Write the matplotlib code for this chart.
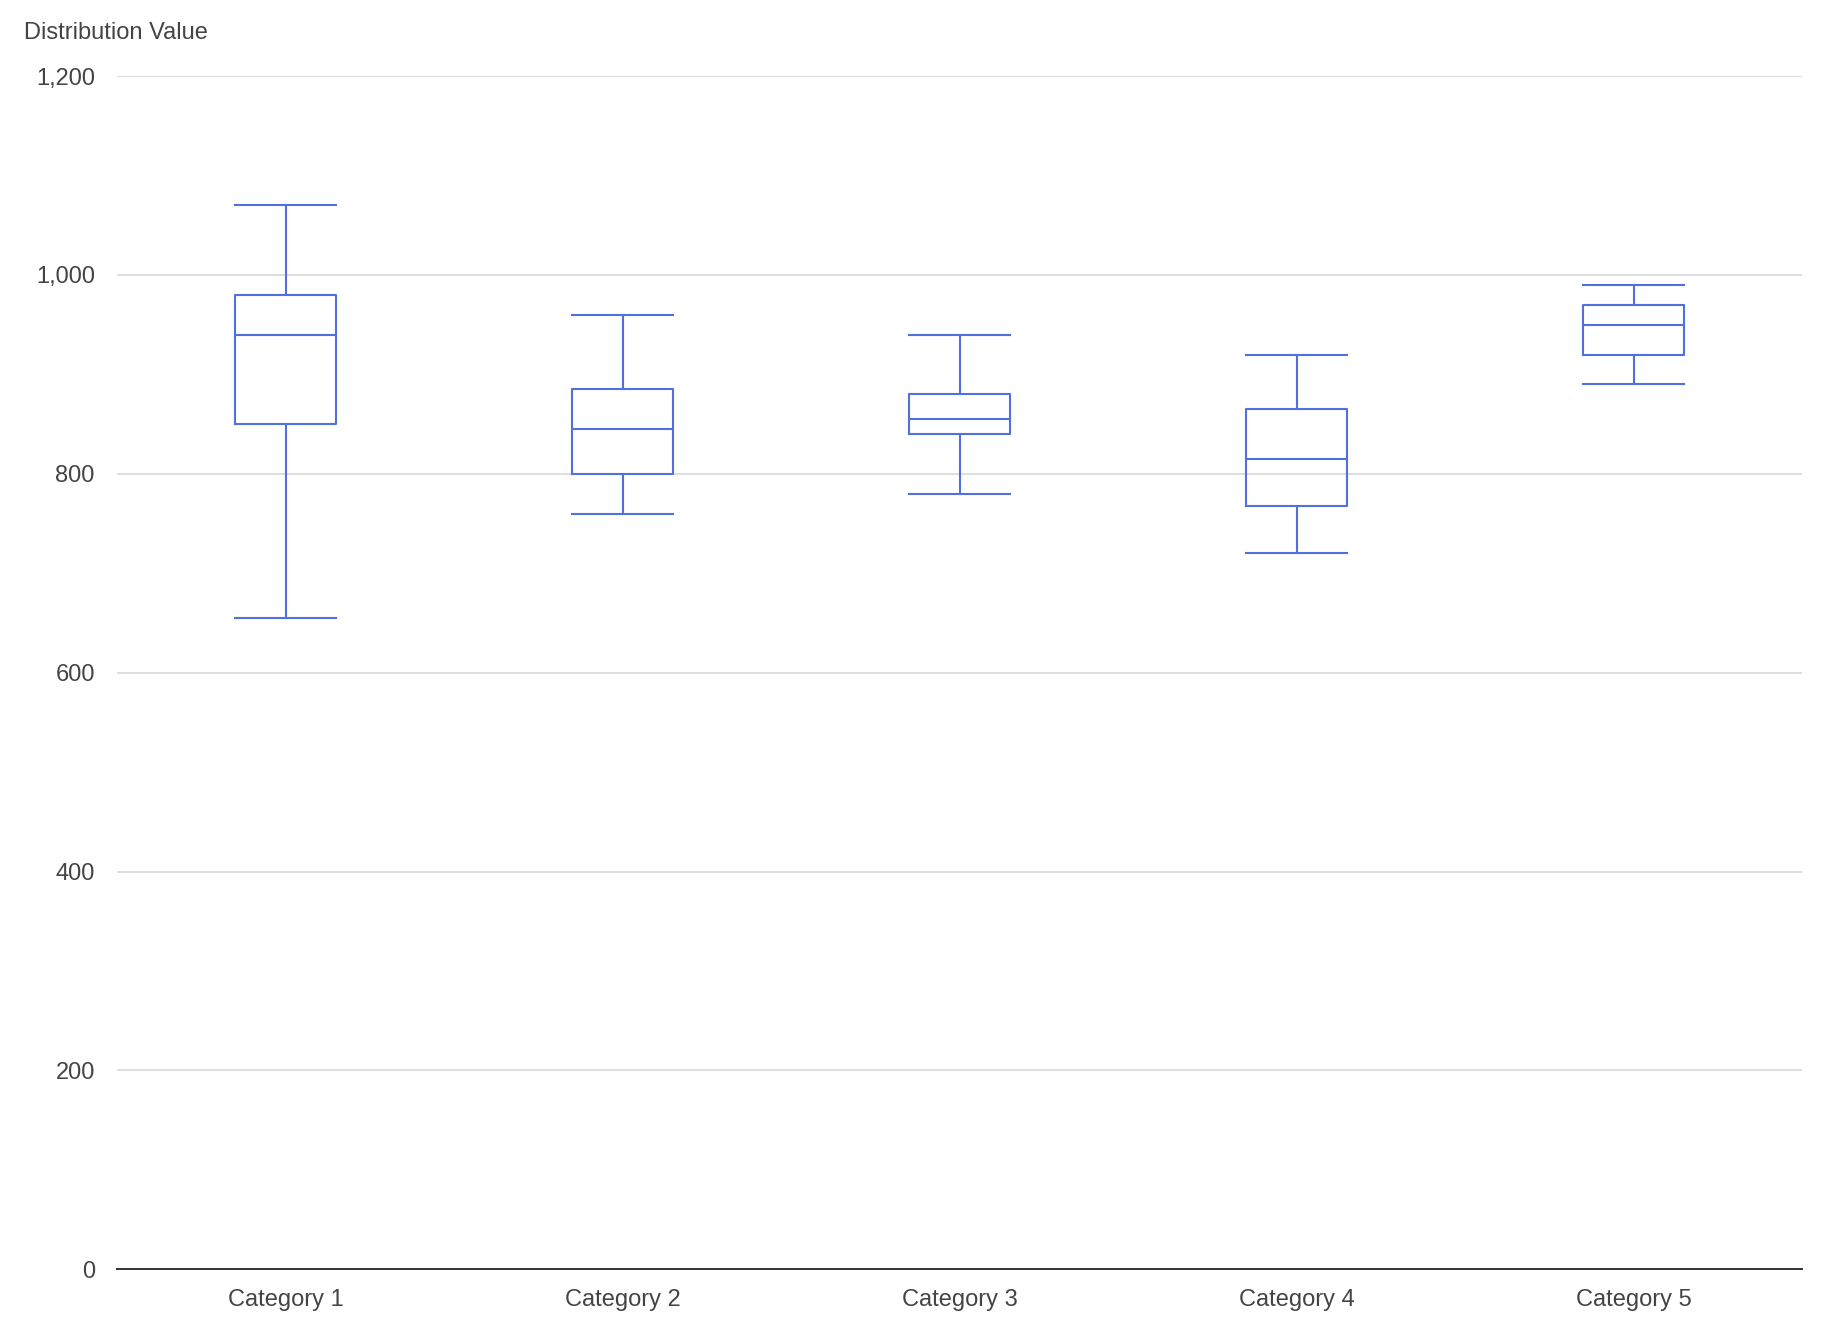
import matplotlib
matplotlib.use("Agg")
import matplotlib.pyplot as plt
from matplotlib.ticker import FuncFormatter

# Box plot statistics
categories = ["Category 1", "Category 2", "Category 3", "Category 4", "Category 5"]
whisker_low = [655, 760, 780, 720, 890]
q1 = [850, 800, 840, 768, 920]
median = [940, 845, 855, 815, 950]
q3 = [980, 885, 880, 865, 970]
whisker_high = [1070, 960, 940, 920, 990]

plt.rcParams["font.family"] = ["Liberation Sans", "DejaVu Sans"]

blue = "#5070e0"
text_color = "#444444"

fig = plt.figure(figsize=(18.28, 13.36), dpi=100)
ax = fig.add_axes([0.064, 0.05, 0.922, 0.893])

stats = []
for i, name in enumerate(categories):
    stats.append(dict(
        label=name,
        whislo=whisker_low[i],
        q1=q1[i],
        med=median[i],
        q3=q3[i],
        whishi=whisker_high[i],
        fliers=[],
    ))

line = dict(color=blue, linewidth=1.5)
ax.bxp(
    stats,
    positions=range(len(categories)),
    widths=0.3,
    showfliers=False,
    boxprops=line,
    whiskerprops=line,
    capprops=line,
    medianprops=line,
    capwidths=0.3,
)

ax.set_xlim(-0.5, len(categories) - 0.5)
ax.set_ylim(0, 1200)
ax.set_yticks([0, 200, 400, 600, 800, 1000, 1200])
ax.yaxis.set_major_formatter(FuncFormatter(lambda v, p: f"{int(v):,}"))
ax.set_xticks(range(len(categories)))
ax.set_xticklabels(categories)

ax.grid(axis="y", color="#d6d8dc", linewidth=1.2)
ax.set_axisbelow(True)
for side in ["top", "right", "left"]:
    ax.spines[side].set_visible(False)
ax.spines["bottom"].set_color("#333333")
ax.spines["bottom"].set_linewidth(1.4)

ax.tick_params(axis="y", length=0, pad=16, labelsize=17, labelcolor=text_color)
ax.tick_params(axis="x", length=0, pad=14, labelsize=17, labelcolor=text_color)

fig.text(0.013, 0.975, "Distribution Value", fontsize=17, color=text_color,
         ha="left", va="center")

fig.savefig("out.png", dpi=100, facecolor="white")
